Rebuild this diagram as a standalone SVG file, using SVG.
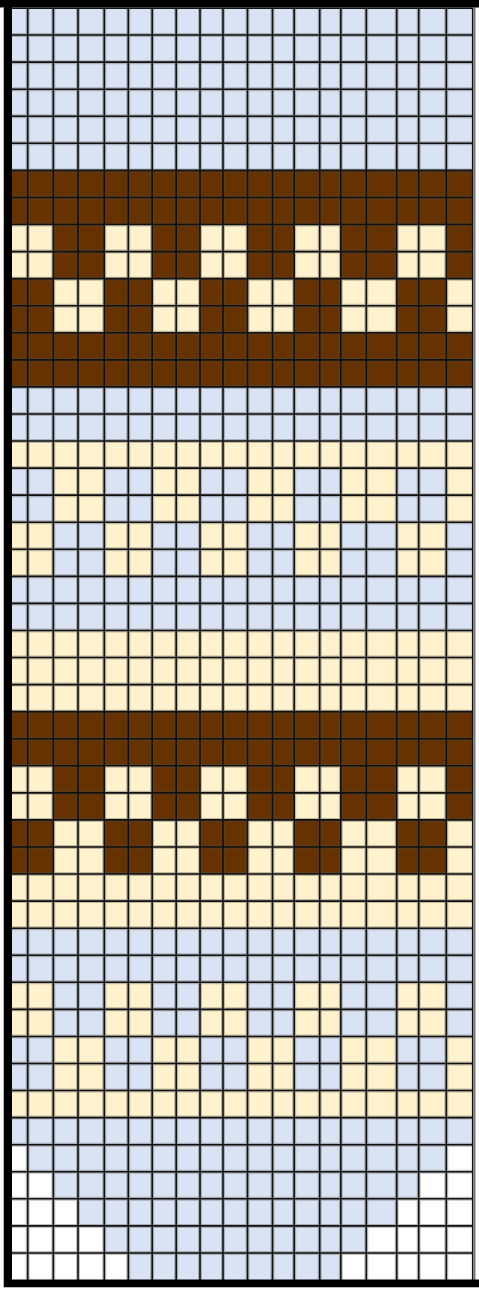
<svg xmlns="http://www.w3.org/2000/svg" width="479" height="1289" viewBox="0 0 479 1289">
<style>
.b{fill:#DAE3F3}.c{fill:#FFF2CC}.r{fill:#663300}.w{fill:#FFFFFF}
.halo{stroke:#4a4a4a;stroke-width:4;stroke-opacity:.35;fill:none}
.grid{stroke:#111;stroke-width:1.6;fill:none}
.frame{fill:#000}
</style>
<rect width="479" height="1289" fill="#fff"/>
<g id="cells">
<rect class="b" x="12" y="8" width="460.7" height="162.38"/>
<rect class="r" x="12" y="170.38" width="460.7" height="216.52"/>
<g class="c">
<rect x="12" y="224.51" width="41.3" height="54.13"/><rect x="104.3" y="224.51" width="47.9" height="54.13"/><rect x="200" y="224.51" width="47.5" height="54.13"/><rect x="294.2" y="224.51" width="46.6" height="54.13"/><rect x="396.7" y="224.51" width="49.6" height="54.13"/>
<rect x="53.3" y="278.64" width="51" height="54.13"/><rect x="152.2" y="278.64" width="47.8" height="54.13"/><rect x="247.5" y="278.64" width="46.7" height="54.13"/><rect x="340.8" y="278.64" width="55.9" height="54.13"/><rect x="446.3" y="278.64" width="26.4" height="54.13"/>
</g>
<rect class="b" x="12" y="386.9" width="460.7" height="243.57"/>
<g class="c">
<rect x="12" y="441.02" width="460.7" height="27.07"/>
<rect x="53.3" y="468.09" width="51" height="54.13"/><rect x="152.2" y="468.09" width="47.8" height="54.13"/><rect x="247.5" y="468.09" width="46.7" height="54.13"/><rect x="340.8" y="468.09" width="55.9" height="54.13"/><rect x="446.3" y="468.09" width="26.4" height="54.13"/>
<rect x="12" y="522.22" width="41.3" height="54.12"/><rect x="104.3" y="522.22" width="47.9" height="54.12"/><rect x="200" y="522.22" width="47.5" height="54.12"/><rect x="294.2" y="522.22" width="46.6" height="54.12"/><rect x="396.7" y="522.22" width="49.6" height="54.12"/>
<rect x="12" y="630.47" width="460.7" height="81.19"/>
</g>
<rect class="r" x="12" y="711.66" width="460.7" height="162.39"/>
<g class="c">
<rect x="12" y="765.79" width="41.3" height="54.13"/><rect x="104.3" y="765.79" width="47.9" height="54.13"/><rect x="200" y="765.79" width="47.5" height="54.13"/><rect x="294.2" y="765.79" width="46.6" height="54.13"/><rect x="396.7" y="765.79" width="49.6" height="54.13"/>
<rect x="53.3" y="819.92" width="51" height="54.13"/><rect x="152.2" y="819.92" width="47.8" height="54.13"/><rect x="247.5" y="819.92" width="46.7" height="54.13"/><rect x="340.8" y="819.92" width="55.9" height="54.13"/><rect x="446.3" y="819.92" width="26.4" height="54.13"/>
<rect x="12" y="874.05" width="460.7" height="54.13"/>
</g>
<rect class="b" x="12" y="928.18" width="460.7" height="189.44"/>
<g class="c">
<rect x="12" y="982.3" width="41.3" height="54.13"/><rect x="104.3" y="982.3" width="47.9" height="54.13"/><rect x="200" y="982.3" width="47.5" height="54.13"/><rect x="294.2" y="982.3" width="46.6" height="54.13"/><rect x="396.7" y="982.3" width="49.6" height="54.13"/>
<rect x="53.3" y="1036.43" width="51" height="54.13"/><rect x="152.2" y="1036.43" width="47.8" height="54.13"/><rect x="247.5" y="1036.43" width="46.7" height="54.13"/><rect x="340.8" y="1036.43" width="55.9" height="54.13"/><rect x="446.3" y="1036.43" width="26.4" height="54.13"/>
<rect x="12" y="1090.56" width="460.7" height="27.06"/>
</g>
<rect class="b" x="12" y="1117.62" width="460.7" height="162.38"/>
<g class="w">
<rect x="12" y="1144.69" width="15.7" height="27.06"/><rect x="446.3" y="1144.69" width="26.4" height="27.06"/>
<rect x="12" y="1171.75" width="41.3" height="27.07"/><rect x="418.7" y="1171.75" width="54" height="27.07"/>
<rect x="12" y="1198.82" width="66" height="27.06"/><rect x="396.7" y="1198.82" width="76" height="27.06"/>
<rect x="12" y="1225.88" width="92.3" height="27.06"/><rect x="366.3" y="1225.88" width="106.4" height="27.06"/>
<rect x="12" y="1252.94" width="116.3" height="27.06"/><rect x="340.8" y="1252.94" width="131.9" height="27.06"/>
</g>
</g>
<g id="gridlines">
<path class="halo" d="M27.7 8V1280M53.3 8V1280M78 8V1280M104.3 8V1280M128.3 8V1280M152.2 8V1280M176.2 8V1280M200 8V1280M223 8V1280M247.5 8V1280M272.5 8V1280M294.2 8V1280M319.7 8V1280M340.8 8V1280M366.3 8V1280M396.7 8V1280M418.7 8V1280M446.3 8V1280M12 35.06H472.7M12 62.13H472.7M12 89.19H472.7M12 116.26H472.7M12 143.32H472.7M12 170.38H472.7M12 197.45H472.7M12 224.51H472.7M12 251.58H472.7M12 278.64H472.7M12 305.7H472.7M12 332.77H472.7M12 359.83H472.7M12 386.9H472.7M12 413.96H472.7M12 441.02H472.7M12 468.09H472.7M12 495.15H472.7M12 522.22H472.7M12 549.28H472.7M12 576.34H472.7M12 603.41H472.7M12 630.47H472.7M12 657.54H472.7M12 684.6H472.7M12 711.66H472.7M12 738.73H472.7M12 765.79H472.7M12 792.86H472.7M12 819.92H472.7M12 846.98H472.7M12 874.05H472.7M12 901.11H472.7M12 928.18H472.7M12 955.24H472.7M12 982.3H472.7M12 1009.37H472.7M12 1036.43H472.7M12 1063.5H472.7M12 1090.56H472.7M12 1117.62H472.7M12 1144.69H472.7M12 1171.75H472.7M12 1198.82H472.7M12 1225.88H472.7M12 1252.94H472.7"/>
<path class="grid" d="M27.7 8V1280M53.3 8V1280M78 8V1280M104.3 8V1280M128.3 8V1280M152.2 8V1280M176.2 8V1280M200 8V1280M223 8V1280M247.5 8V1280M272.5 8V1280M294.2 8V1280M319.7 8V1280M340.8 8V1280M366.3 8V1280M396.7 8V1280M418.7 8V1280M446.3 8V1280M472.7 8V1280M12 8.3H472.7M12 35.06H472.7M12 62.13H472.7M12 89.19H472.7M12 116.26H472.7M12 143.32H472.7M12 170.38H472.7M12 197.45H472.7M12 224.51H472.7M12 251.58H472.7M12 278.64H472.7M12 305.7H472.7M12 332.77H472.7M12 359.83H472.7M12 386.9H472.7M12 413.96H472.7M12 441.02H472.7M12 468.09H472.7M12 495.15H472.7M12 522.22H472.7M12 549.28H472.7M12 576.34H472.7M12 603.41H472.7M12 630.47H472.7M12 657.54H472.7M12 684.6H472.7M12 711.66H472.7M12 738.73H472.7M12 765.79H472.7M12 792.86H472.7M12 819.92H472.7M12 846.98H472.7M12 874.05H472.7M12 901.11H472.7M12 928.18H472.7M12 955.24H472.7M12 982.3H472.7M12 1009.37H472.7M12 1036.43H472.7M12 1063.5H472.7M12 1090.56H472.7M12 1117.62H472.7M12 1144.69H472.7M12 1171.75H472.7M12 1198.82H472.7M12 1225.88H472.7M12 1252.94H472.7"/>
<path d="M474.8 7V1280" stroke="#555" stroke-width="1.2" fill="none"/>
</g>
<g id="frame" class="frame">
<rect x="0" y="0" width="479" height="7.5"/>
<rect x="4" y="0" width="8" height="1287"/>
<rect x="4" y="1279.5" width="475" height="7.5"/>
</g>
<path d="M3.5 7.5V1287.5H479" stroke="#bbb" stroke-width="1" fill="none"/>
</svg>
